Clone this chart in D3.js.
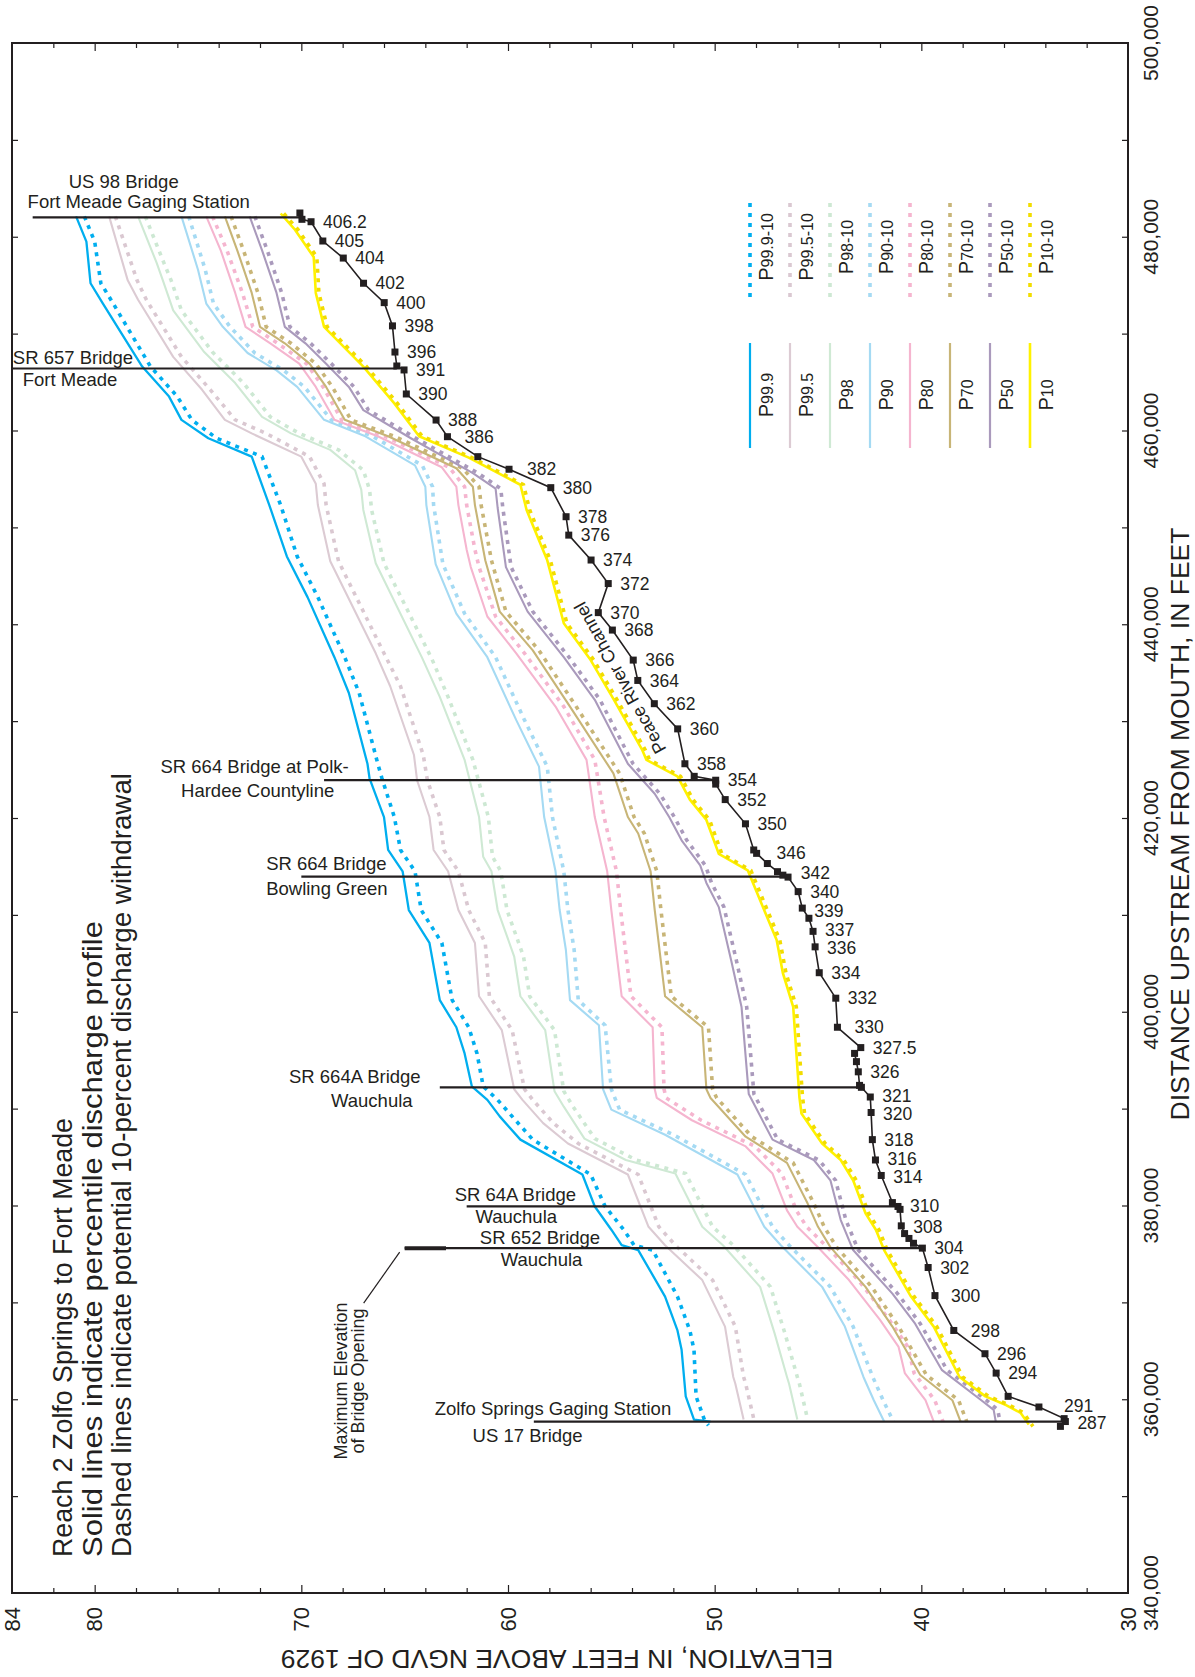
<!DOCTYPE html>
<html><head><meta charset="utf-8">
<script src="https://cdn.jsdelivr.net/npm/d3@7"></script>
<style>
body{margin:0;background:#fff}
svg{display:block}
text{font-family:"Liberation Sans",Arial,Helvetica,sans-serif;fill:#231f20}
</style>
</head><body>
<svg id="chart" width="1195" height="1677"></svg>
<script>
// ---------------- DATA (distance in thousands of feet, elevation in feet) ----------------
const elevTickLabels = [84, 80, 70, 60, 50, 40, 30];
const distTickLabels = [340000, 360000, 380000, 400000, 420000, 440000, 460000, 480000, 500000];

const P999 = [[482.1,80.9],[479.5,80.4],[475.2,80.2],[473.1,79.6],[466.6,77.7],[463.5,76.4],[461.1,75.8],[459.2,74.5],[457.3,72.4],[452.3,71.55],[447.0,70.7],[442.8,69.7],[436.6,68.4],[432.9,67.7],[425.6,66.8],[424.1,66.7],[420.1,66.0],[416.7,65.8],[414.5,65.1],[410.5,64.8],[407.1,63.8],[401.2,63.3],[398.4,62.5],[395.7,62.1],[392.3,61.75],[390.9,61.0],[389.2,60.4],[386.8,59.4],[383.2,56.4],[379.9,55.8],[377.5,55.0],[375.9,54.5],[375.4,53.7],[370.6,52.4],[367.1,51.8],[365.1,51.6],[360.3,51.4],[357.9,51.0],[357.7,50.2]];
const P999w = [[482.1,80.5],[479.5,80.0],[475.2,79.7],[473.1,79.1],[466.6,77.3],[463.5,76.0],[461.1,75.3],[459.2,74.1],[457.3,71.9],[452.3,71.0],[447.0,70.2],[442.8,69.2],[436.6,67.9],[432.9,67.2],[425.6,66.3],[424.1,66.1],[420.1,65.5],[416.7,65.2],[414.5,64.5],[410.5,64.2],[407.1,63.2],[401.2,62.7],[398.4,61.9],[395.7,61.5],[392.3,61.2],[390.9,60.5],[389.2,59.8],[386.8,58.8],[383.2,56.0],[379.9,55.3],[377.5,54.4],[375.9,53.9],[375.4,53.0],[370.6,51.8],[367.1,51.2],[365.1,51.0],[360.3,50.9],[357.9,50.5],[357.3,50.3]];

const P995 = [[482.1,79.3],[475.5,78.4],[473.5,77.9],[467.6,76.2],[464.2,74.8],[461.1,73.7],[459.7,72.4],[457.3,70.0],[454.5,69.3],[452.3,69.2],[446.5,68.6],[437.0,66.4],[433.6,65.7],[426.5,64.55],[423.9,64.4],[420.1,63.8],[416.7,63.6],[414.5,62.9],[410.5,62.4],[407.1,61.6],[401.6,61.4],[398.1,60.3],[392.0,59.7],[390.9,59.3],[388.5,58.3],[386.4,57.1],[383.2,54.2],[377.8,53.2],[375.9,52.4],[372.3,50.6],[367.5,49.5],[362.3,49.1],[361.6,49.0],[357.9,48.6]];
const P995w = [[482.1,79.0],[475.5,77.95],[473.5,77.5],[467.6,75.8],[464.2,74.4],[461.1,73.2],[459.7,71.7],[457.3,69.6],[454.5,68.9],[452.3,68.8],[446.5,68.2],[437.0,66.0],[433.6,65.2],[426.5,64.1],[423.9,63.9],[420.1,63.3],[416.7,63.1],[414.5,62.4],[410.5,61.9],[407.1,61.1],[401.6,60.9],[398.1,59.8],[392.0,59.2],[390.9,58.8],[388.5,57.8],[386.4,56.6],[383.2,53.7],[377.8,52.7],[375.9,51.9],[372.3,50.1],[367.5,49.0],[362.3,48.6],[361.6,48.5],[357.9,48.1]];

const P98 = [[482.1,77.9],[477.3,77.0],[475.5,76.7],[472.4,76.2],[468.1,74.7],[464.9,73.2],[461.4,71.9],[459.7,70.5],[458.0,68.6],[455.9,67.4],[453.9,67.1],[451.8,67.0],[446.3,66.4],[436.5,64.15],[432.5,63.3],[426.0,62.1],[420.1,61.4],[416.0,61.2],[414.5,60.8],[410.5,60.5],[405.7,59.7],[401.6,59.4],[398.1,58.2],[391.8,57.75],[390.2,57.3],[386.9,56.3],[384.7,54.3],[383.3,51.9],[377.8,50.6],[375.9,49.6],[371.6,47.8],[366.8,47.1],[362.3,46.5],[361.6,46.4],[357.9,46.0]];
const P98w = [[482.1,77.55],[477.3,76.65],[475.5,76.3],[472.4,75.8],[468.1,74.3],[464.9,72.8],[461.4,71.5],[459.7,70.1],[458.0,68.2],[455.9,67.0],[453.9,66.7],[451.8,66.6],[446.3,66.0],[436.5,63.7],[432.5,62.9],[426.0,61.7],[420.1,60.95],[416.0,60.75],[414.5,60.35],[410.5,60.05],[405.7,59.25],[401.6,58.95],[398.1,57.75],[391.8,57.3],[390.2,56.85],[386.9,55.8],[384.7,53.8],[383.3,51.4],[377.8,50.1],[375.9,49.1],[371.6,47.3],[366.8,46.6],[362.3,46.0],[361.6,45.9],[357.9,45.5]];

const P90 = [[482.1,75.8],[476.6,75.0],[473.1,74.6],[470.7,73.8],[468.0,72.6],[466.2,71.2],[464.5,70.2],[461.1,68.9],[459.4,66.9],[456.4,64.5],[454.2,64.0],[452.3,63.95],[446.2,63.5],[441.1,62.5],[436.6,61.0],[430.1,59.6],[425.3,58.5],[420.1,58.25],[414.5,57.7],[410.5,57.5],[406.4,57.2],[401.2,57.0],[398.6,55.6],[392.0,55.4],[389.9,55.0],[387.3,52.4],[383.2,48.9],[377.8,47.6],[375.9,46.8],[371.6,44.8],[367.5,43.7],[362.3,42.8],[359.9,42.3],[357.7,41.8]];
const P90w = [[482.1,75.45],[476.6,74.65],[473.1,74.25],[470.7,73.45],[468.0,72.25],[466.2,70.85],[464.5,69.85],[461.1,68.55],[459.4,66.55],[456.4,64.15],[454.2,63.65],[452.3,63.6],[446.2,63.15],[441.1,62.1],[436.6,60.6],[430.1,59.2],[425.3,58.1],[420.1,57.85],[414.5,57.3],[410.5,57.1],[406.4,56.8],[401.2,56.6],[398.6,55.3],[392.0,55.0],[389.9,54.6],[387.3,52.0],[383.2,48.5],[377.8,47.2],[375.9,46.4],[371.6,44.4],[367.5,43.3],[362.3,42.35],[359.9,41.85],[357.7,41.35]];

const P80 = [[482.1,74.6],[478.6,73.9],[474.2,73.2],[470.7,72.7],[469.0,71.5],[466.9,70.1],[464.5,69.3],[461.1,68.4],[459.4,66.3],[456.2,63.2],[454.2,62.5],[452.3,62.4],[447.7,62.0],[445.9,61.8],[440.8,61.0],[437.0,59.6],[431.5,57.7],[426.0,56.2],[420.1,55.8],[414.5,55.2],[410.5,55.0],[401.6,54.5],[398.4,53.0],[392.0,52.9],[391.1,52.8],[388.8,51.1],[386.1,48.5],[383.3,47.2],[379.5,46.5],[377.8,46.0],[375.7,45.0],[372.3,43.5],[368.2,42.0],[365.4,41.1],[362.7,40.8],[359.9,39.8],[357.7,39.4]];
const P80w = [[482.1,74.3],[478.6,73.6],[474.2,72.85],[470.7,72.35],[469.0,71.15],[466.9,69.75],[464.5,68.95],[461.1,68.05],[459.4,65.95],[456.2,62.85],[454.2,62.1],[452.3,62.0],[447.7,61.6],[445.9,61.4],[440.8,60.6],[437.0,59.2],[431.5,57.3],[426.0,55.8],[420.1,55.35],[414.5,54.75],[410.5,54.55],[401.6,54.05],[398.4,52.55],[392.0,52.45],[391.1,52.35],[388.8,50.65],[386.1,48.05],[383.3,46.75],[379.5,46.05],[377.8,45.55],[375.7,44.55],[372.3,43.05],[368.2,41.55],[365.4,40.65],[362.7,40.35],[359.9,39.35],[357.7,38.95]];

const P70 = [[482.1,73.7],[478.6,73.1],[474.2,72.4],[470.7,72.0],[469.0,70.8],[466.9,69.6],[464.5,68.8],[461.1,67.9],[459.4,65.8],[456.1,62.5],[454.2,61.7],[452.3,61.6],[446.6,61.1],[441.3,60.4],[437.3,58.8],[431.5,57.0],[424.6,54.9],[420.1,54.2],[418.4,53.7],[414.5,53.1],[410.5,52.9],[401.6,52.4],[398.4,50.6],[392.0,50.4],[391.1,50.2],[387.1,48.5],[384.4,46.5],[380.2,45.5],[377.8,45.0],[375.7,44.4],[371.6,42.7],[367.5,41.4],[362.5,40.05],[359.9,38.5],[357.7,38.1]];
const P70w = [[482.1,73.4],[478.6,72.8],[474.2,72.1],[470.7,71.7],[469.0,70.5],[466.9,69.3],[464.5,68.5],[461.1,67.6],[459.4,65.5],[456.1,62.2],[454.2,61.4],[452.3,61.3],[446.6,60.8],[441.3,60.1],[437.3,58.5],[431.5,56.7],[424.6,54.6],[420.1,53.9],[418.4,53.4],[414.5,52.8],[410.5,52.6],[401.6,52.1],[398.4,50.3],[392.0,50.1],[391.1,49.9],[387.1,48.2],[384.4,46.2],[380.2,45.2],[377.8,44.7],[375.7,44.1],[371.6,42.4],[367.5,41.1],[362.5,39.75],[359.9,38.2],[357.7,37.8]];

const P50 = [[482.1,72.5],[478.6,71.9],[474.2,71.2],[470.7,70.8],[469.0,69.8],[466.9,68.8],[464.5,67.7],[462.1,67.0],[459.2,64.7],[455.6,61.7],[454.0,60.6],[452.0,60.5],[445.9,60.1],[441.3,59.05],[436.6,57.3],[432.2,55.8],[425.6,54.2],[422.5,52.9],[420.1,52.2],[417.7,51.6],[415.1,50.7],[413.3,50.4],[410.8,49.8],[405.3,49.2],[400.5,48.7],[391.5,48.35],[386.8,47.2],[384.7,45.2],[382.6,44.4],[378.5,43.9],[375.4,43.3],[370.9,41.4],[367.8,40.3],[363.0,39.0],[359.9,37.1],[358.9,36.5],[357.7,36.4]];
const P50w = [[482.1,72.25],[478.6,71.65],[474.2,70.95],[470.7,70.55],[469.0,69.55],[466.9,68.55],[464.5,67.45],[462.1,66.75],[459.2,64.45],[455.6,61.45],[454.0,60.35],[452.0,60.25],[445.9,59.85],[441.3,58.8],[436.6,57.05],[432.2,55.55],[425.6,53.95],[422.5,52.65],[420.1,51.95],[417.7,51.35],[415.1,50.45],[413.3,50.15],[410.8,49.55],[405.3,48.95],[400.5,48.45],[391.5,48.1],[386.8,46.95],[384.7,44.95],[382.6,44.15],[378.5,43.65],[375.4,43.05],[370.9,41.15],[367.8,40.05],[363.0,38.75],[359.9,36.85],[358.9,36.3],[357.7,36.2]];

const P10 = [[482.4,71.0],[480.7,70.3],[477.9,69.4],[474.2,69.3],[470.7,68.9],[466.6,67.0],[462.8,65.5],[459.4,64.3],[457.2,61.9],[454.4,59.4],[451.8,59.1],[449.7,58.7],[446.6,58.1],[440.1,57.3],[436.3,56.0],[432.3,54.9],[427.0,53.5],[426.0,53.3],[424.3,51.8],[421.9,51.2],[419.8,50.4],[416.3,49.8],[414.6,48.4],[411.5,47.8],[407.4,47.0],[404.0,46.7],[400.5,46.2],[394.3,46.0],[391.2,45.9],[389.5,45.8],[386.4,44.8],[384.7,43.9],[382.6,43.3],[379.2,42.7],[377.5,42.2],[375.4,41.8],[370.6,40.5],[367.5,39.4],[362.3,38.15],[360.3,36.9],[359.4,35.9],[358.6,35.2],[357.4,34.8]];
const P10w = [[482.4,70.85],[480.7,70.15],[477.9,69.25],[474.2,69.15],[470.7,68.75],[466.6,66.85],[462.8,65.35],[459.4,64.15],[457.2,61.75],[454.4,59.25],[451.8,58.95],[449.7,58.55],[446.6,57.95],[440.1,57.15],[436.3,55.85],[432.3,54.75],[427.0,53.35],[426.0,53.15],[424.3,51.65],[421.9,51.05],[419.8,50.25],[416.3,49.65],[414.6,48.25],[411.5,47.65],[407.4,46.85],[404.0,46.55],[400.5,46.05],[394.3,45.85],[391.2,45.75],[389.5,45.65],[386.4,44.65],[384.7,43.75],[382.6,43.15],[379.2,42.55],[377.5,42.05],[375.4,41.65],[370.6,40.35],[367.5,39.25],[362.3,38.0],[360.3,36.75],[359.4,35.75],[358.6,35.05],[357.2,34.6]];

// channel bottom: [distance (k ft), elevation, station label]
const channel = [[482.45,70.07,""],[481.8,69.97,""],[481.55,69.53,"406.2"],[479.56,68.96,"405"],[477.8,67.97,"404"],[475.2,66.99,"402"],[473.2,65.99,"400"],[470.8,65.59,"398"],[468.1,65.47,"396"],[466.66,65.38,""],[466.25,65.03,"391"],[463.77,64.92,"390"],[461.08,63.48,"388"],[459.36,62.93,"386"],[457.3,61.46,""],[456.0,59.95,"382"],[454.1,57.93,"380"],[451.1,57.19,"378"],[449.2,57.06,"376"],[446.63,55.98,"374"],[444.2,55.15,"372"],[441.2,55.63,"370"],[439.4,54.95,"368"],[436.3,53.94,"366"],[434.2,53.72,"364"],[431.8,52.92,"362"],[429.2,51.79,"360"],[425.6,51.44,"358"],[424.3,50.99,""],[423.9,49.95,"354"],[423.5,49.95,""],[421.9,49.49,"352"],[419.4,48.51,"350"],[416.7,48.11,""],[416.35,47.97,"346"],[415.3,47.45,""],[414.46,46.96,""],[414.1,46.7,"342"],[413.9,46.45,""],[412.4,45.96,"340"],[410.7,45.76,"339"],[409.65,45.44,""],[408.3,45.24,"337"],[406.7,45.14,"336"],[404.03,44.94,"334"],[401.4,44.14,"332"],[398.4,44.06,"330"],[396.3,42.93,"327.5"],[395.7,43.23,""],[394.85,43.14,""],[393.8,43.05,"326"],[392.4,42.99,""],[392.2,42.9,""],[391.2,42.47,"321"],[389.6,42.43,"320"],[386.8,42.37,"318"],[384.7,42.22,"316"],[383.1,41.94,"314"],[380.3,41.4,""],[379.9,41.13,"310"],[379.6,41.03,""],[377.9,40.97,"308"],[377.1,40.81,""],[376.6,40.6,""],[376.1,40.38,""],[375.6,39.95,"304"],[373.6,39.67,"302"],[370.7,39.34,"300"],[367.1,38.43,"298"],[364.7,36.92,"296"],[362.7,36.38,"294"],[360.3,35.8,""],[359.2,34.31,"291"],[358.0,33.09,""],[357.7,33.03,"287"],[357.2,33.27,""]];

// bridges
const bridgeNames = [["US 98 Bridge","Fort Meade Gaging Station"],["SR 657 Bridge","Fort Meade"],["SR 664 Bridge at Polk-","Hardee Countyline"],["SR 664 Bridge","Bowling Green"],["SR 664A Bridge","Wauchula"],["SR 64A Bridge","Wauchula"],["SR 652 Bridge","Wauchula"],["Zolfo Springs Gaging Station","US 17 Bridge"]];
const bridgeDist = [482.0, 466.4, 423.9, 413.95, 392.2, 379.9, 375.6, 357.7];
const bridgeTop  = [83.0, 84.0, 68.9, 70.0, 63.3, 62.0, 65.0, 58.75];
const bridgeBed  = [70.07, 65.38, 49.95, 46.45, 42.9, 41.13, 39.95, 33.03];
const maxOpening = [65.0, 63.0]; // SR 652 maximum elevation of bridge opening bar

const legendKeys = ["99.9","99.5","98","90","80","70","50","10"];
const legendColors = ["#00aeef","#dccbd3","#cfe9d4","#a5daf3","#f5b5cf","#c8b577","#aa9abc","#fff200"];
const dashedColors = ["#00aeef","#dac8d1","#cde8d3","#a5daf3","#f5b5cf","#c8b577","#aa9abc","#f2dc00"];
const solidSeries = [P999, P995, P98, P90, P80, P70, P50, P10];
const dashedSeries = [P999w, P995w, P98w, P90w, P80w, P70w, P50w, P10w];

const notes = ["Reach 2 Zolfo Springs to Fort Meade","Solid lines indicate percentile discharge profile","Dashed lines indicate potential 10-percent discharge withdrawal"];
const noteLengths = [439, 636, 784];

// ---------------- LAYOUT ----------------
const svg = d3.select("#chart");
const ink = "#231f20";
const x = d3.scaleLinear().domain([84, 30]).range([12, 1128]);
const y = d3.scaleLinear().domain([340000, 500000]).range([1593, 43]);
const yk = v => y(v * 1000);

svg.append("rect").attr("width",1195).attr("height",1677).attr("fill","#fff");
svg.append("defs").append("clipPath").attr("id","plot")
  .append("rect").attr("x",x(84)).attr("y",y(500000)).attr("width",x(30)-x(84)).attr("height",y(340000)-y(500000));

// ticks (inside the frame on all four sides)
function styleAxis(g){ g.select(".domain").remove(); g.selectAll("line").attr("stroke",ink).attr("stroke-width",1.2); g.selectAll("text").remove(); }
const eMinor = d3.range(32, 84, 2).filter(v => v % 10 !== 0);
const eMajor = [80, 70, 60, 50, 40];
const dTicks = d3.range(350000, 500000, 10000);
svg.append("g").attr("transform",`translate(0,${y(340000)})`).call(d3.axisTop(x).tickValues(eMinor).tickSize(5)).call(styleAxis);
svg.append("g").attr("transform",`translate(0,${y(340000)})`).call(d3.axisTop(x).tickValues(eMajor).tickSize(8)).call(styleAxis);
svg.append("g").attr("transform",`translate(0,${y(500000)})`).call(d3.axisBottom(x).tickValues(eMinor).tickSize(5)).call(styleAxis);
svg.append("g").attr("transform",`translate(0,${y(500000)})`).call(d3.axisBottom(x).tickValues(eMajor).tickSize(8)).call(styleAxis);
svg.append("g").attr("transform",`translate(${x(30)},0)`).call(d3.axisLeft(y).tickValues(dTicks).tickSize(6)).call(styleAxis);
svg.append("g").attr("transform",`translate(${x(84)},0)`).call(d3.axisRight(y).tickValues(dTicks).tickSize(6)).call(styleAxis);

// frame
svg.append("rect").attr("x",x(84)).attr("y",y(500000)).attr("width",x(30)-x(84)).attr("height",y(340000)-y(500000))
  .attr("fill","none").attr("stroke",ink).attr("stroke-width",2);

// tick labels
svg.selectAll("text.elev").data(elevTickLabels).join("text").attr("class","elev")
  .attr("transform", d => `translate(${x(d)},1607) rotate(-90)`)
  .attr("text-anchor","end").attr("dy","0.35em").attr("font-size",22).text(d => d);
svg.selectAll("text.dist").data(distTickLabels).join("text").attr("class","dist")
  .attr("transform", d => `translate(1151,${y(d)}) rotate(-90)`)
  .attr("text-anchor","middle").attr("dy","0.35em").attr("font-size",21).text(d => d3.format(",")(d));

// axis titles
svg.append("text").attr("transform","translate(1189,824) rotate(-90)").attr("text-anchor","middle")
  .attr("font-size",26.5).text("DISTANCE UPSTREAM FROM MOUTH, IN FEET");
svg.append("text").attr("transform","translate(557,1650) rotate(180)").attr("text-anchor","middle")
  .attr("font-size",26.5).text("ELEVATION, IN FEET ABOVE NGVD OF 1929");

// curves
const line = d3.line().x(d => x(d[1])).y(d => yk(d[0]));
const curves = svg.append("g").attr("clip-path","url(#plot)");
solidSeries.forEach((s, i) => {
  curves.append("path").attr("d", line(s)).attr("fill","none").attr("stroke", legendColors[i])
    .attr("stroke-width", i === 0 ? 2.3 : (i === 7 ? 2.6 : 2.1)).attr("stroke-linejoin","round");
  curves.append("path").attr("d", line(dashedSeries[i])).attr("fill","none").attr("stroke", dashedColors[i])
    .attr("stroke-width", 3.6).attr("stroke-dasharray","4,5.5");
});

// bridges
const bg = svg.append("g").attr("clip-path","url(#plot)");
bridgeDist.forEach((d, i) => {
  bg.append("line").attr("x1", x(bridgeTop[i])).attr("x2", x(bridgeBed[i]))
    .attr("y1", yk(d)).attr("y2", yk(d)).attr("stroke", ink).attr("stroke-width", 2.2);
});
bg.append("line").attr("x1", x(maxOpening[0])).attr("x2", x(maxOpening[1]))
  .attr("y1", yk(bridgeDist[6])).attr("y2", yk(bridgeDist[6])).attr("stroke", ink).attr("stroke-width", 4);

// bridge labels: [dx1, dy1, dx2, dy2] offsets from the line's upper (left) end
const labelOffsets = [[91,-29.5,106,-9],[61,-5,58,17.5],[-69.5,-6.8,-66.4,17.2],[25,-6.9,25.5,18.1],[-85,-4.8,-68,19.2],[48.7,-5.2,49.6,16.5],[135.3,-4.5,136.9,17.8],[19.1,-6.9,-6.2,20.8]];
bridgeDist.forEach((d, i) => {
  const x0 = x(bridgeTop[i]), y0 = yk(d), o = labelOffsets[i];
  svg.append("text").attr("x", x0 + o[0]).attr("y", y0 + o[1]).attr("text-anchor","middle").attr("font-size",18.5).text(bridgeNames[i][0]);
  svg.append("text").attr("x", x0 + o[2]).attr("y", y0 + o[3]).attr("text-anchor","middle").attr("font-size",18.5).text(bridgeNames[i][1]);
});

// maximum elevation of bridge opening annotation
const mx = x(maxOpening[0]), my = yk(bridgeDist[6]);
svg.append("line").attr("x1", mx - 5).attr("y1", my + 4).attr("x2", mx - 41).attr("y2", my + 55)
  .attr("stroke", ink).attr("stroke-width", 1.2);
["Maximum Elevation","of Bridge Opening"].forEach((t, i) => {
  svg.append("text").attr("transform",`translate(${347 + i*17},1381) rotate(-90)`).attr("text-anchor","middle")
    .attr("font-size",18).text(t);
});

// channel
const cl = d3.line().x(d => x(d[1])).y(d => yk(d[0]));
svg.append("path").attr("d", cl(channel)).attr("fill","none").attr("stroke", ink).attr("stroke-width",1.6);
svg.selectAll("rect.st").data(channel).join("rect").attr("class","st")
  .attr("x", d => x(d[1]) - 3.5).attr("y", d => yk(d[0]) - 3.5).attr("width",7).attr("height",7).attr("fill", ink);
const nudgeX = {"291":13,"346":8,"386":5,"382":6,"330":5,"342":6,"298":5,"300":4};
const nudgeY = {"321":-1.5,"320":1.5,"342":-2.5,"340":0,"339":2.5,"337":-1.5,"336":1.5,"316":-1,"314":1.5,"310":-1,"308":1,"291":-1,"287":1.5};
svg.selectAll("text.st").data(channel.filter(d => d[2])).join("text").attr("class","st")
  .attr("x", d => x(d[1]) + 12 + (nudgeX[d[2]] || 0)).attr("y", d => yk(d[0]) + (nudgeY[d[2]] || 0))
  .attr("dy","0.35em").attr("font-size",17.5).text(d => d[2]);

svg.append("text").attr("transform","translate(620,678) rotate(-119)").attr("text-anchor","middle")
  .attr("dy","0.35em").attr("font-size",18).text("Peace River Channel");

// legend
const lg = svg.append("g");
legendKeys.forEach((k, i) => {
  const lx = 750 + i * 40;
  lg.append("line").attr("x1",lx).attr("x2",lx).attr("y1",203).attr("y2",303)
    .attr("stroke", dashedColors[i]).attr("stroke-width",3.6).attr("stroke-dasharray","4,6");
  lg.append("line").attr("x1",lx).attr("x2",lx).attr("y1",343).attr("y2",448)
    .attr("stroke", legendColors[i]).attr("stroke-width", i === 7 ? 2.6 : 2.2);
  const t1 = lg.append("text").attr("transform",`translate(${lx+23},247) rotate(-90)`).attr("text-anchor","middle");
  t1.append("tspan").attr("font-size",20).text("P");
  t1.append("tspan").attr("font-size",16).text(k + "-10");
  const t2 = lg.append("text").attr("transform",`translate(${lx+23},395) rotate(-90)`).attr("text-anchor","middle");
  t2.append("tspan").attr("font-size",20).text("P");
  t2.append("tspan").attr("font-size",16).text(k);
});

// notes
notes.forEach((t, i) => {
  svg.append("text").attr("transform",`translate(${72 + i*29.5},1557) rotate(-90)`).attr("text-anchor","start")
    .attr("font-size",27).attr("textLength", noteLengths[i]).attr("lengthAdjust","spacingAndGlyphs").text(t);
});
</script>
</body></html>
